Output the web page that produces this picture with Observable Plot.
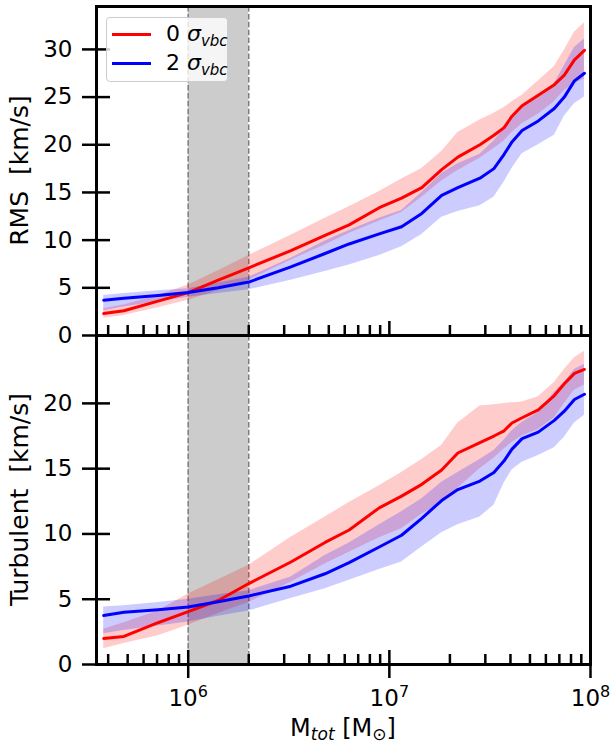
<!DOCTYPE html>
<html>
<head>
<meta charset="utf-8">
<script src="https://cdn.jsdelivr.net/npm/d3@7"></script>
<script src="https://cdn.jsdelivr.net/npm/@observablehq/plot@0.6"></script>
<style>
  html, body { margin: 0; padding: 0; background: white; }
  #wrap { position: relative; width: 616px; height: 746px; font-family: "DejaVu Sans", sans-serif; }
  #wrap svg { display: block; overflow: visible; }
  #legend { position: absolute; left: 106px; top: 17px; width: 120px; height: 63px;
            background: rgba(255,255,255,0.8); border: 1px solid #cccccc; border-radius: 4px; }
  .sw { position: absolute; left: 5px; width: 39px; height: 3px; }
  .lt { position: absolute; left: 59px; font-size: 22px; line-height: 22px; white-space: nowrap; color: #000; }
  .lt sub { font-size: 15px; vertical-align: -5px; line-height: 0; }
</style>
</head>
<body>
<div id="wrap">
  <div id="top"></div>
  <div id="bottom" style="margin-top:-12px"></div>
  <div id="legend">
    <div class="sw" style="top:15px;background:#ff0000"></div>
    <div class="lt" style="top:5px">0 <i>σ</i><sub><i>vbc</i></sub></div>
    <div class="sw" style="top:44px;background:#0000ff"></div>
    <div class="lt" style="top:34px">2 <i>σ</i><sub><i>vbc</i></sub></div>
  </div>
</div>
<script>
// halo mass bins [M_sun]
const mass = [3.80e5, 4.79e5, 7.08e5, 1.0e6, 1.41e6, 2.0e6, 3.24e6, 4.79e6, 6.31e6, 8.91e6,
              1.15e7, 1.45e7, 1.82e7, 2.19e7, 2.82e7, 3.31e7, 3.72e7, 4.07e7, 4.57e7, 5.50e7,
              6.61e7, 7.41e7, 8.32e7, 9.33e7];

// RMS velocity [km/s]
const rms0   = [2.3, 2.6, 3.6, 4.5, 5.8, 7.1, 8.9, 10.5, 11.6, 13.4, 14.4, 15.5, 17.4, 18.7, 20.0, 21.0, 21.8, 23.0, 24.1, 25.2, 26.3, 27.3, 28.9, 29.9];
const rms0Hi = [2.8, 3.2, 4.2, 5.3, 6.8, 8.4, 10.5, 12.3, 13.5, 15.1, 16.4, 17.5, 19.3, 21.3, 22.6, 23.3, 23.9, 24.5, 25.2, 26.7, 28.2, 29.9, 31.8, 32.8];
const rms0Lo = [1.8, 2.1, 2.9, 3.7, 4.7, 5.8, 7.9, 9.5, 10.7, 12.0, 12.9, 14.5, 16.2, 17.3, 18.6, 19.6, 20.4, 21.3, 22.2, 23.2, 24.5, 25.7, 26.4, 26.9];
const rms2   = [3.7, 3.9, 4.2, 4.5, 5.0, 5.6, 7.2, 8.6, 9.6, 10.65, 11.4, 12.8, 14.7, 15.5, 16.5, 17.5, 19.0, 20.3, 21.5, 22.5, 23.8, 25.0, 26.7, 27.5];
const rms2Hi = [4.2, 4.4, 4.7, 4.9, 5.5, 6.1, 8.1, 9.9, 11.0, 12.3, 13.1, 15.0, 17.0, 18.0, 19.0, 20.4, 21.7, 22.8, 23.9, 25.2, 26.4, 28.3, 30.2, 31.1];
const rms2Lo = [2.6, 3.0, 3.5, 4.0, 4.4, 4.8, 5.8, 6.7, 7.4, 8.4, 9.3, 10.6, 12.4, 13.0, 13.6, 14.5, 16.1, 17.5, 19.05, 20.0, 21.0, 23.0, 24.3, 25.0];

// Turbulent velocity [km/s]
const turb0   = [2.0, 2.15, 3.2, 4.05, 4.9, 6.2, 7.85, 9.35, 10.3, 12.0, 12.9, 13.8, 14.9, 16.2, 17.0, 17.5, 17.9, 18.5, 18.9, 19.5, 20.6, 21.5, 22.3, 22.6];
const turb0Hi = [2.7, 3.2, 4.1, 5.4, 6.5, 7.6, 9.75, 11.3, 12.4, 13.7, 14.7, 15.7, 16.8, 18.5, 19.8, 19.9, 20.0, 20.05, 20.1, 20.5, 21.6, 22.6, 23.5, 24.0];
const turb0Lo = [1.2, 1.6, 2.2, 3.0, 3.9, 4.75, 6.3, 7.7, 8.6, 9.7, 10.4, 11.5, 12.4, 13.5, 15.0, 15.8, 16.5, 17.0, 17.5, 18.0, 18.9, 20.0, 21.0, 21.4];
const turb2   = [3.75, 4.0, 4.2, 4.4, 4.8, 5.25, 6.0, 6.95, 7.8, 9.0, 9.9, 11.2, 12.56, 13.4, 14.05, 14.7, 15.6, 16.5, 17.3, 17.8, 18.7, 19.4, 20.3, 20.7];
const turb2Hi = [4.4, 4.5, 4.75, 5.0, 5.35, 5.65, 6.7, 8.35, 9.3, 10.7, 11.7, 12.7, 13.96, 14.7, 15.7, 16.4, 17.2, 17.9, 18.55, 19.3, 20.85, 21.6, 22.6, 23.0];
const turb2Lo = [2.35, 2.6, 2.95, 3.25, 3.7, 4.1, 5.06, 5.8, 6.46, 7.27, 7.85, 9.0, 10.1, 10.7, 11.3, 12.2, 13.9, 14.9, 15.5, 16.0, 16.6, 17.4, 18.5, 19.1];

// Shaded mass range
const bandLo = 1e6, bandHi = 2e6;

// Ticks
const xMajor = [1e6, 1e7, 1e8];
const xMajorExp = ["6", "7", "8"];
const xMinor = [4e5, 5e5, 6e5, 7e5, 8e5, 9e5,
                2e6, 3e6, 4e6, 5e6, 6e6, 7e6, 8e6, 9e6,
                2e7, 3e7, 4e7, 5e7, 6e7, 7e7, 8e7, 9e7];
const yTicksRms = [0, 5, 10, 15, 20, 25, 30];
const yTicksTurb = [0, 5, 10, 15, 20];
const yLabelRms = "RMS\u00a0 [km/s]";
const yLabelTurb = "Turbulent\u00a0 [km/s]";
const xDomain = [3.5e5, 1e8];

const RED = "#ff0000", BLUE = "#0000ff";

function rowsFor(m0, lo0, hi0, m2, lo2, hi2) {
  return mass.map((m, i) => ({m, m0: m0[i], lo0: lo0[i], hi0: hi0[i], m2: m2[i], lo2: lo2[i], hi2: hi2[i]}));
}

function panel({rows, yDomain, yTicks, height, marginTop, marginBottom, showXLabels}) {
  return Plot.plot({
    width: 616,
    height,
    marginTop,
    marginBottom,
    marginLeft: 96,
    marginRight: 26,
    style: {fontFamily: "DejaVu Sans", fontSize: "23px", background: "transparent", overflow: "visible", color: "black"},
    x: {type: "log", domain: xDomain},
    y: {domain: yDomain},
    marks: [
      Plot.rect([{a: bandLo, b: bandHi}], {x1: "a", x2: "b", fill: "#cccccc"}),
      Plot.ruleX([bandLo, bandHi], {stroke: "#7f7f7f", strokeWidth: 1.5, strokeDasharray: "5.5,2.4"}),
      Plot.areaY(rows, {x: "m", y1: "lo0", y2: "hi0", fill: RED, fillOpacity: 0.2}),
      Plot.areaY(rows, {x: "m", y1: "lo2", y2: "hi2", fill: BLUE, fillOpacity: 0.2}),
      Plot.lineY(rows, {x: "m", y: "m0", stroke: RED, strokeWidth: 3}),
      Plot.lineY(rows, {x: "m", y: "m2", stroke: BLUE, strokeWidth: 3}),
      Plot.axisY({ticks: yTicks, tickSize: 28, dx: 14, tickPadding: 10, strokeWidth: 2.5, label: null, fontSize: 23}),
      Plot.axisX({ticks: xMinor, tickSize: 10, dy: -10, strokeWidth: 2.5, tickFormat: () => "", label: null}),
      showXLabels
        ? Plot.axisX({ticks: xMajor, tickSize: 28, dy: -14, tickPadding: 11, strokeWidth: 2.5,
                      tickFormat: d => "10^" + xMajorExp[xMajor.indexOf(d)], label: null, fontSize: 23})
        : Plot.axisX({ticks: xMajor, tickSize: 14, dy: -14, strokeWidth: 2.5, tickFormat: () => "", label: null}),
      Plot.frame({stroke: "black", strokeWidth: 3})
    ]
  });
}

function yTitle(svg, label, cy) {
  d3.select(svg).append("text")
    .attr("transform", `translate(28,${cy}) rotate(-90)`)
    .attr("text-anchor", "middle")
    .attr("font-family", "DejaVu Sans")
    .attr("font-size", 25)
    .attr("fill", "black")
    .style("white-space", "pre")
    .text(label);
}

const topRows = rowsFor(rms0, rms0Lo, rms0Hi, rms2, rms2Lo, rms2Hi);
const botRows = rowsFor(turb0, turb0Lo, turb0Hi, turb2, turb2Lo, turb2Hi);

// top: frame from y=6 to y=335 ; svg height 341
const topPlot = panel({rows: topRows, yDomain: [0, 34.5], yTicks: yTicksRms,
                       height: 341, marginTop: 6, marginBottom: 6, showXLabels: false});
// bottom: svg placed at y=329; frame from 335 to 664
const botPlot = panel({rows: botRows, yDomain: [0, 25.2], yTicks: yTicksTurb,
                       height: 417, marginTop: 6, marginBottom: 82, showXLabels: true});

document.getElementById("top").appendChild(topPlot);
document.getElementById("bottom").appendChild(botPlot);

// turn "10^6" tick labels into 10 with a superscript exponent
d3.select(botPlot).selectAll("text").each(function() {
  const s = this.textContent;
  if (/^10\^\d$/.test(s)) {
    const sel = d3.select(this);
    sel.text("10");
    sel.append("tspan").attr("font-size", 16).attr("dy", -9).text(s.slice(3));
  }
});

yTitle(topPlot, yLabelRms, 170.5);
yTitle(botPlot, yLabelTurb, 170.5);

// x-axis title with subscripts
const t = d3.select(botPlot).append("text")
  .attr("x", 343).attr("y", 407)
  .attr("text-anchor", "middle")
  .attr("font-family", "DejaVu Sans")
  .attr("font-size", 24)
  .attr("fill", "black");
t.append("tspan").text("M");
t.append("tspan").attr("font-size", 17).attr("font-style", "italic").attr("dy", 4).text("tot");
t.append("tspan").attr("dy", -4).text(" [M");
t.append("tspan").attr("font-size", 17).attr("dy", 4).text("⊙");
t.append("tspan").attr("dy", -4).text("]");
</script>
</body>
</html>
